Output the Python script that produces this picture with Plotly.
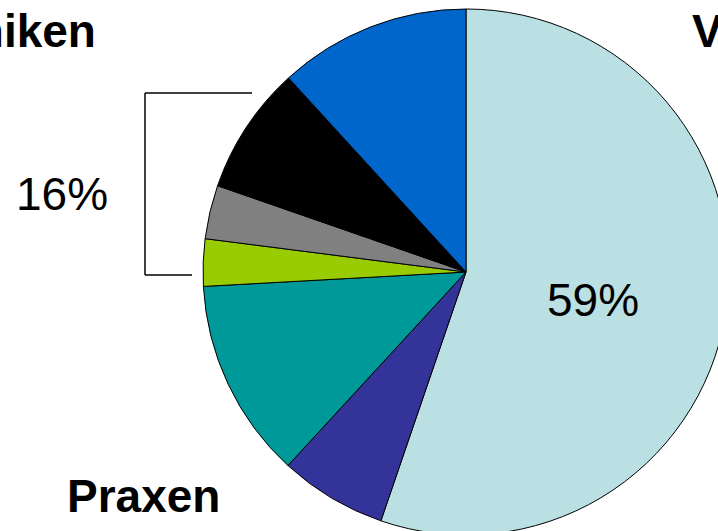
import plotly.graph_objects as go

# Slice data (clockwise from 12 o'clock)
segments = ["Hellblau", "Violett", "Petrol", "Grün", "Grau", "Schwarz", "Blau"]
shares = [55.3, 6.6, 12.3, 2.9, 3.3, 7.9, 11.8]
colors = ["#BAE0E3", "#333399", "#009999", "#99CC00", "#808080", "#000000", "#0066CC"]

# Text labels
big_label = "59%"
group_label = "16%"
label_left_top = "Kliniken"
label_right_top = "V"
label_bottom = "Praxen"

W, H = 740, 535

def px(x):
    return x / W

def py(y):
    return 1 - y / H

fig = go.Figure(go.Pie(
    labels=segments,
    values=shares,
    sort=False,
    direction="clockwise",
    rotation=0,
    marker=dict(colors=colors, line=dict(color="#000000", width=1)),
    textinfo="none",
    hoverinfo="label+percent",
    showlegend=False,
    domain=dict(x=[1 - 548 / W, 1], y=[0, 1 - 9 / H]),
))

font_reg = dict(family="Liberation Sans, Arial, sans-serif", size=46, color="#000000")
font_bold = dict(family="Liberation Sans, Arial, sans-serif", size=46, color="#000000")

annos = [
    dict(text=big_label, x=px(545), y=py(300), xanchor="left", yanchor="middle", font=font_reg),
    dict(text=group_label, x=px(62), y=py(194), xanchor="center", yanchor="middle", font=font_reg),
    dict(text="<b>%s</b>" % label_left_top, x=px(98), y=py(31), xanchor="right", yanchor="middle", font=font_bold),
    dict(text="<b>%s</b>" % label_right_top, x=px(690), y=py(31), xanchor="left", yanchor="middle", font=font_bold),
    dict(text="<b>%s</b>" % label_bottom, x=px(65), y=py(496), xanchor="left", yanchor="middle", font=font_bold),
]
for a in annos:
    a.update(xref="paper", yref="paper", showarrow=False)

line = dict(color="#000000", width=1.5)
shapes = [
    dict(type="line", xref="paper", yref="paper", x0=px(145), x1=px(145), y0=py(93), y1=py(275), line=line),
    dict(type="line", xref="paper", yref="paper", x0=px(145), x1=px(252), y0=py(93), y1=py(93), line=line),
    dict(type="line", xref="paper", yref="paper", x0=px(145), x1=px(192), y0=py(275), y1=py(275), line=line),
]

fig.update_layout(
    width=W, height=H,
    margin=dict(l=0, r=0, t=0, b=0),
    paper_bgcolor="#FFFFFF",
    plot_bgcolor="#FFFFFF",
    annotations=annos,
    shapes=shapes,
)

fig.write_html(
    "out.html",
    config={"displayModeBar": False},
    post_script="document.body.style.margin='0';document.body.style.overflow='hidden';",
)
